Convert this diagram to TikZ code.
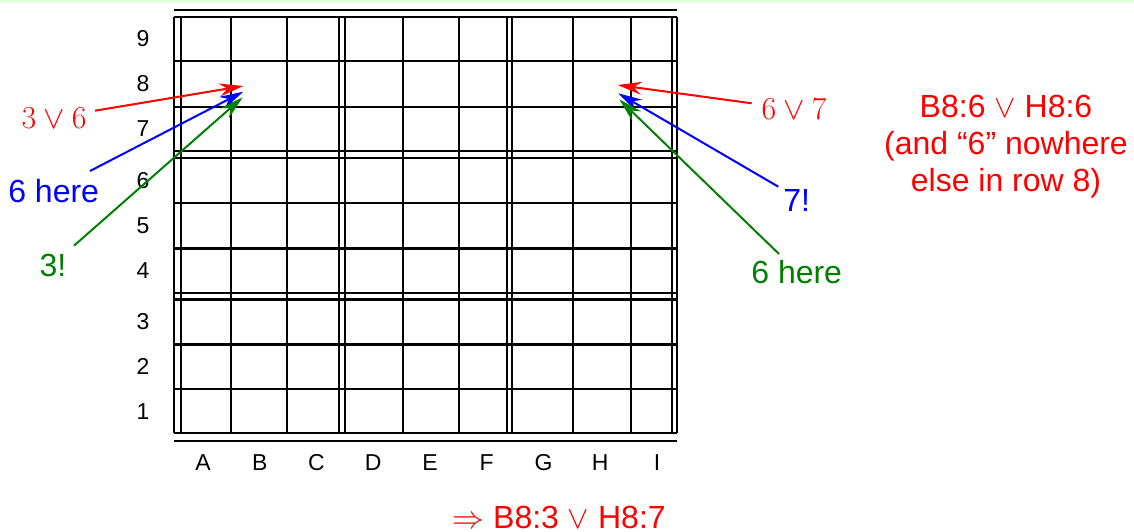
\RequirePackage{fix-cm}
\documentclass[tikz,border=0pt]{standalone}
\usepackage{fontspec}
\setmainfont{Liberation Sans}
\usetikzlibrary{arrows.meta}
\definecolor{topbar}{RGB}{224,255,218}
\definecolor{dkgreen}{RGB}{0,128,0}
\newcommand\mytightlines{\lineskiplimit-100pt\relax}
\tikzset{
  gridline/.style={line width=2.1pt, black},
  axislabel/.style={inner sep=0pt, font=\fontsize{23}{27}\selectfont},
  note/.style={inner sep=0pt, font=\fontsize{32}{36}\selectfont},
  pointer/.style={line width=2pt, -{Stealth[length=24pt,width=13pt,inset=8pt]}},
}
\begin{document}
\begin{tikzpicture}[x=1pt,y=-1pt]
\useasboundingbox (0,0) rectangle (1134,531);
\fill[topbar] (0,0) rectangle (1134,3);
% grid: vertical lines
\foreach \x in {174,181,230.7,287.3,339.3,345.3,402.7,459.3,506.7,512.3,572.7,630.7,671.7,677}
  \draw[gridline] (\x,16.7) -- (\x,433.3);
% grid: horizontal lines
\foreach \y in {10,16.7,61,106.7,151,157.7,203.3,248.5,293,299.5,344.5,389,433.3,441}
  \draw[gridline] (174,\y) -- (677,\y);
% row labels
\foreach \r/\y in {9/38.9,8/83.9,7/128.9,6/180.5,5/225.9,4/270.8,3/322,2/366.8,1/411.2}
  \node[axislabel] (row\r) at (143,\y) {\r};
% column labels
\foreach \c [count=\i from 0] in {A,B,C,D,E,F,G,H,I}
  \node[axislabel] (col\c) at ({203+56.75*\i},463) {\c};
% left annotations
\node[note, text=red]     (l36)  at (54,118)   {$3\vee 6$};
\node[note, text=blue]    (lb6)  at (53.7,190.7) {6 here};
\node[note, text=dkgreen] (lg3)  at (53,265)   {3!};
\coordinate (lt1) at (95,110.7);
\coordinate (lt2) at (90,171);
\coordinate (lt3) at (74,245.7);
\coordinate (lh1) at (243.3,86);
\coordinate (lh2) at (243.3,91.7);
\coordinate (lh3) at (242.7,97.3);
\draw[pointer, red]     (lt1) -- (lh1);
\draw[pointer, blue]    (lt2) -- (lh2);
\draw[pointer, dkgreen] (lt3) -- (lh3);
% right annotations
\node[note, text=red]     (r67) at (794,109.3) {$6\vee 7$};
\node[note, text=blue]    (rb7) at (796.7,200) {7!};
\node[note, text=dkgreen] (rg6) at (796.7,271.7) {6 here};
\coordinate (rt1) at (751.7,103.3);
\coordinate (rt2) at (778.3,186.7);
\coordinate (rt3) at (779,254);
\coordinate (rh1) at (617.7,85);
\coordinate (rh2) at (618.3,93.3);
\coordinate (rh3) at (619.3,99.3);
\draw[pointer, red]     (rt1) -- (rh1);
\draw[pointer, blue]    (rt2) -- (rh2);
\draw[pointer, dkgreen] (rt3) -- (rh3);
% conclusions
\node[note, text=red, align=center, anchor=north,
      font=\fontsize{32}{36.7}\selectfont\mytightlines]
  (claim) at (1006,95.3) {B8:6 $\vee$ H8:6\\(and “6” nowhere\\else in row 8)};
\node[note, text=red] (result) at (559,517) {$\Rightarrow$ B8:3 $\vee$ H8:7};
\end{tikzpicture}
\end{document}
